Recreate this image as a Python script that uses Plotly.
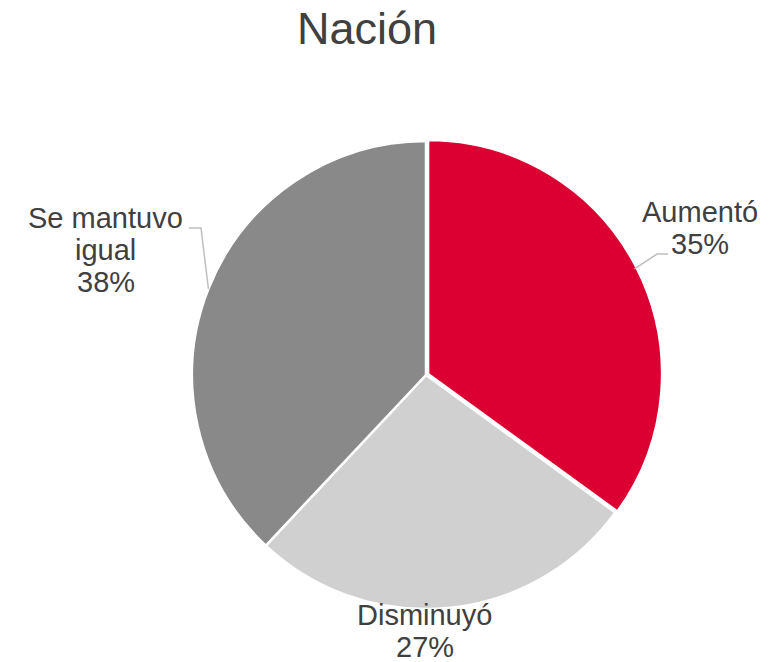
import math
import plotly.graph_objects as go

W, H = 780, 662

title = "Nación"
categories = ["Aumentó", "Disminuyó", "Se mantuvo igual"]
values = [35, 27, 38]
label_lines = [["Aumentó", "35%"], ["Disminuyó", "27%"], ["Se mantuvo", "igual", "38%"]]
colors = ["#DC0032", "#D0D0D0", "#898989"]
pulls = [0.01, 0, 0]

# layout (pixels)
cx, cy, R = 426, 375, 234
text_color = "#404040"
font_family = "Liberation Sans, Arial, sans-serif"
label_size = 29
line_gap = 32
# label first-line centers (pixels) and leader elbow positions (None = no leader)
label_pos = [(700, 212), (425, 615), (106, 218)]
elbows = [((657, 254), (668, 254)), None, ((201, 228), (189, 228))]

def px(x):
    return x / W

def py(y):
    return 1 - y / H

Rd = R * (1 + max(pulls))
fig = go.Figure(go.Pie(
    labels=categories,
    values=values,
    sort=False,
    direction="clockwise",
    rotation=0,
    pull=pulls,
    marker=dict(colors=colors, line=dict(color="white", width=2.5)),
    textinfo="none",
    hoverinfo="label+percent",
    showlegend=False,
    domain=dict(x=[px(cx - Rd), px(cx + Rd)], y=[py(cy + Rd), py(cy - Rd)]),
))

annotations = [dict(text=title, x=px(367), y=py(28.5), xref="paper", yref="paper",
                    xanchor="center", yanchor="middle", showarrow=False,
                    font=dict(size=45, color=text_color, family=font_family))]
shapes = []
total = sum(values)
cum = 0
for i, v in enumerate(values):
    mid = (cum + v / 2) / total * 2 * math.pi
    cum += v
    lx, ly = label_pos[i]
    for j, line in enumerate(label_lines[i]):
        annotations.append(dict(text=line, x=px(lx), y=py(ly + j * line_gap),
                                xref="paper", yref="paper", xanchor="center",
                                yanchor="middle", showarrow=False,
                                font=dict(size=label_size, color=text_color, family=font_family)))
    if elbows[i]:
        ex = cx + R * math.sin(mid)
        ey = cy - R * math.cos(mid)
        (bx, by), (tx, ty) = elbows[i]
        path = f"M {px(ex)},{py(ey)} L {px(bx)},{py(by)} L {px(tx)},{py(ty)}"
        shapes.append(dict(type="path", path=path, xref="paper", yref="paper",
                           line=dict(color="#BFBFBF", width=1.5)))

fig.update_layout(
    width=W, height=H,
    margin=dict(l=0, r=0, t=0, b=0),
    paper_bgcolor="white",
    plot_bgcolor="white",
    annotations=annotations,
    shapes=shapes,
)
fig.write_html("out.html", config={"displayModeBar": False},
               post_script="document.body.style.margin='0';document.body.style.overflow='hidden';")
